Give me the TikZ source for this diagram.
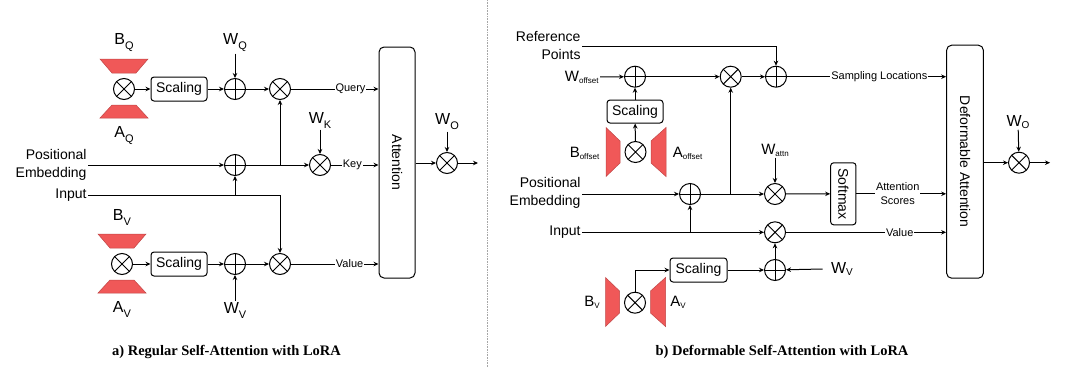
\documentclass[tikz,border=0pt]{standalone}
\usepackage{fontspec}
\setmainfont{Liberation Sans}
\newfontfamily\capfont{Liberation Serif}
\usetikzlibrary{arrows.meta,calc}
\definecolor{loraRed}{RGB}{240,88,88}
\newcommand{\lsub}[2]{{\fontsize{16}{16}\selectfont #1}\raisebox{-5pt}{\fontsize{11}{11}\selectfont #2}}
\newcommand{\msub}[2]{{\fontsize{16}{16}\selectfont #1}\raisebox{-2pt}{\fontsize{10}{10}\selectfont #2}}
\newcommand{\ssub}[2]{{\fontsize{15}{15}\selectfont #1}\raisebox{-2pt}{\fontsize{8}{8}\selectfont #2}}

\begin{document}
\begin{tikzpicture}[x=1pt, y=-1pt, line width=1pt,
  arr/.style={-{Stealth[length=5pt,width=4.5pt]}},
  lbl/.style={font=\fontsize{14}{18}\selectfont, inner sep=1pt},
  tag/.style={font=\fontsize{11}{12}\selectfont, fill=white, inner sep=1pt},
  scalebox/.style={draw, rounded corners=3pt, minimum height=24pt, inner sep=0pt},
  attnbox/.style={draw, rounded corners=5pt, inner sep=0pt},
  otimesnode/.style={circle, draw, minimum size=21pt, inner sep=0pt,
    path picture={\draw ([shift={(45:10.5pt)}]path picture bounding box.center) -- ([shift={(225:10.5pt)}]path picture bounding box.center)
      ([shift={(135:10.5pt)}]path picture bounding box.center) -- ([shift={(315:10.5pt)}]path picture bounding box.center);}},
  oplusnode/.style={circle, draw, minimum size=21pt, inner sep=0pt,
    path picture={\draw (path picture bounding box.north) -- (path picture bounding box.south)
      (path picture bounding box.west) -- (path picture bounding box.east);}},
  lora/.style={fill=loraRed, draw=loraRed!80!black, line width=0.5pt},
  caption/.style={font=\capfont\bfseries\fontsize{14.5}{16}\selectfont}]
  \useasboundingbox (0,0) rectangle (1070,367);

  % LoRA factors, a) pairs above/below, b) pairs left/right
  \foreach \cx/\cy in {124/89, 122/264}
  {
    \filldraw[lora] ({\cx-24},{\cy-30}) -- ({\cx+24},{\cy-30}) -- ({\cx+12},{\cy-16}) -- ({\cx-12},{\cy-16}) -- cycle;
    \filldraw[lora] ({\cx-12},{\cy+16}) -- ({\cx+12},{\cy+16}) -- ({\cx+24},{\cy+29}) -- ({\cx-24},{\cy+29}) -- cycle;
  }
  \foreach \cx/\cy in {635.5/152, 635/302}
  {
    \filldraw[lora] ({\cx-29.5},{\cy-24.5}) -- ({\cx-15.5},{\cy-11}) -- ({\cx-15.5},{\cy+11}) -- ({\cx-29.5},{\cy+24.5}) -- cycle;
    \filldraw[lora] ({\cx+30.5},{\cy-24.5}) -- ({\cx+15.5},{\cy-11}) -- ({\cx+15.5},{\cy+11}) -- ({\cx+30.5},{\cy+24.5}) -- cycle;
  }

  % a) Regular self-attention
  \node[otimesnode] (qprod) at (124,89) {};
  \node[scalebox, minimum width=56pt, lbl] (qscale) at (179,89) {Scaling};
  \node[oplusnode] (qadd) at (235,89) {};
  \node[otimesnode] (qmul) at (280,89) {};
  \node[lbl] (bq) at (124,43) {\lsub{B}{Q}};
  \node[lbl] (aq) at (124,136) {\lsub{A}{Q}};
  \node[lbl] (wq) at (235,43) {\lsub{W}{Q}};

  \node[lbl, align=right, anchor=east] (pe) at (88,165) {Positional\\Embedding};
  \node[lbl, anchor=east] (in) at (88,195) {Input};
  \node[oplusnode] (kadd) at (235,165) {};
  \node[otimesnode] (kmul) at (320,165) {};
  \node[lbl] (wk) at (320,120) {\lsub{W}{K}};

  \node[otimesnode] (vprod) at (122,264) {};
  \node[scalebox, minimum width=56pt, lbl] (vscale) at (179,264) {Scaling};
  \node[oplusnode] (vadd) at (235,264) {};
  \node[otimesnode] (vmul) at (280,264) {};
  \node[lbl] (bv) at (122,217) {\lsub{B}{V}};
  \node[lbl] (av) at (122,309) {\lsub{A}{V}};
  \node[lbl] (wv) at (235,310) {\lsub{W}{V}};

  \node[attnbox, minimum width=36pt, minimum height=231pt, lbl] (attn) at (397,162.5) {\rotatebox{-90}{Attention}};
  \node[otimesnode] (omul) at (447,163) {};
  \node[lbl] (wo) at (447,122) {\lsub{W}{O}};
  \coordinate (out) at (478,163);

  \draw[arr] (qprod) -- (qscale);
  \draw[arr] (qscale) -- (qadd);
  \draw[arr] (wq) -- (qadd);
  \draw[arr] (qadd) -- (qmul);
  \draw[arr] (qmul) -- node[tag, pos=0.68] {Query} (qmul -| attn.west);
  \draw[arr] (pe.east |- kadd) -- (kadd);
  \draw[arr] (kadd) -- (kmul);
  \draw[arr] (kadd.east) -| (qmul.south);
  \draw[arr] (wk) -- (kmul);
  \draw[arr] (kmul) -- node[tag, pos=0.45] {Key} (kmul -| attn.west);
  \draw[arr] (in.east) -| (vmul.north);
  \draw[arr] (in.east -| kadd) -- (kadd.south);
  \draw[arr] (vprod) -- (vscale);
  \draw[arr] (vscale) -- (vadd);
  \draw[arr] (wv) -- (vadd);
  \draw[arr] (vadd) -- (vmul);
  \draw[arr] (vmul) -- node[tag, pos=0.67] {Value} (vmul -| attn.west);
  \draw[arr] (attn.east |- omul) -- (omul);
  \draw[arr] (wo) -- (omul);
  \draw[arr] (omul) -- (out);

  \node[caption] (capa) at (226.5,352) {a) Regular Self-Attention with LoRA};

  \draw[gray!70, densely dotted, line width=0.6pt] (487,0) -- (487,367);

  % b) Deformable self-attention
  \node[lbl, align=right, anchor=east] (ref) at (582,46) {Reference\\Points};
  \node[lbl, anchor=east] (woff) at (600,77) {\ssub{W}{offset}};
  \node[oplusnode] (oadd) at (635,76.7) {};
  \node[otimesnode] (offmul) at (730.7,76.7) {};
  \node[oplusnode] (sadd) at (776,76.7) {};
  \node[scalebox, minimum width=56pt, minimum height=23pt, lbl] (offscale) at (635,111.5) {Scaling};
  \node[otimesnode] (offprod) at (635.5,152) {};
  \node[lbl] (boff) at (584.5,153) {\ssub{B}{offset}};
  \node[lbl] (aoff) at (687.5,153) {\ssub{A}{offset}};

  \node[lbl, align=right, anchor=east] (pe2) at (582,193) {Positional\\Embedding};
  \node[lbl, anchor=east] (in2) at (582,232.3) {Input};
  \node[oplusnode] (padd) at (690,194) {};
  \node[otimesnode] (amul) at (775,194) {};
  \node[lbl] (wattn) at (775,150) {\ssub{W}{attn}};
  \node[attnbox, rounded corners=3pt, minimum width=25.3pt, minimum height=62pt, lbl] (smax) at (843.3,193.8) {\rotatebox{-90}{Softmax}};

  \node[otimesnode] (vmul2) at (775,232.3) {};
  \node[oplusnode] (vadd2) at (775,270) {};
  \node[lbl] (wv2) at (842,269) {\msub{W}{V}};
  \node[scalebox, minimum width=57pt, lbl] (vscale2) at (698.5,270) {Scaling};
  \node[otimesnode] (vprod2) at (635,302.7) {};
  \node[lbl] (bv2) at (592,302) {\ssub{B}{V}};
  \node[lbl] (av2) at (678,302) {\ssub{A}{V}};

  \node[attnbox, minimum width=36.7pt, minimum height=233pt, lbl] (dattn) at (965,161.7) {\rotatebox{-90}{Deformable Attention}};
  \node[otimesnode] (omul2) at (1019,162.7) {};
  \node[lbl] (wo2) at (1018,121.7) {\msub{W}{O}};
  \coordinate (out2) at (1050,162.7);

  \draw[arr] (ref.east) -| (sadd.north);
  \draw[arr] (woff) -- (oadd);
  \draw[arr] (offprod) -- (offscale);
  \draw[arr] (offscale) -- (oadd);
  \draw[arr] (oadd) -- (offmul);
  \draw[arr] (offmul) -- (sadd);
  \draw[arr] (sadd) -- node[tag, pos=0.58] {Sampling Locations} (sadd -| dattn.west);
  \draw[arr] (pe2.east |- padd) -- (padd);
  \draw[arr] (padd) -- (amul);
  \draw[arr] (padd.east) -| (offmul.south);
  \draw[arr] (wattn) -- (amul);
  \draw[arr] (amul) -- (smax);
  \draw[arr] (smax) -- node[tag, pos=0.46, align=center, font=\fontsize{11}{14.5}\selectfont] {Attention\\Scores} (smax -| dattn.west);
  \draw[arr] (in2.east) -- (vmul2);
  \draw[arr] (in2.east -| padd) -- (padd.south);
  \draw[arr] (vmul2) -- node[tag, pos=0.71] {Value} (vmul2 -| dattn.west);
  \draw[arr] (vadd2) -- (vmul2);
  \draw[arr] ([xshift=-7pt]wv2.west) -- (vadd2);
  \draw[arr] (vscale2) -- (vadd2);
  \draw[arr] (vprod2.north) |- (vscale2.west);
  \draw[arr] (dattn.east |- omul2) -- (omul2);
  \draw[arr] (wo2) -- (omul2);
  \draw[arr] (omul2) -- (out2);

  \node[caption] (capb) at (782,352) {b) Deformable Self-Attention with LoRA};
\end{tikzpicture}
\end{document}
